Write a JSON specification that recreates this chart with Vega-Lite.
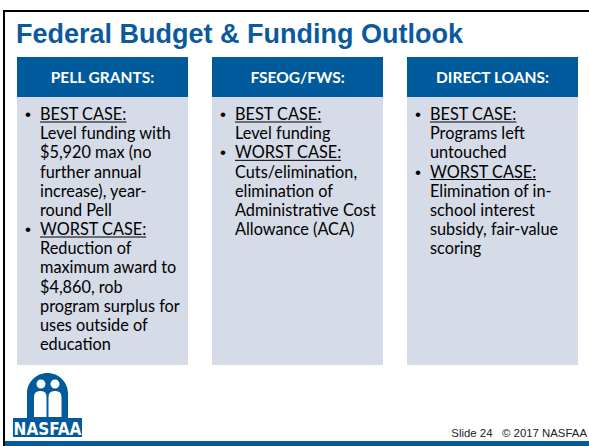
{
  "$schema": "https://vega.github.io/schema/vega-lite/v6.json",
  "width": 589,
  "height": 446,
  "padding": 0,
  "autosize": {"type": "none"},
  "background": "white",
  "config": {"view": {"stroke": null}},
  "datasets": {
    "slide": [{"title": "Federal Budget & Funding Outlook", "footer": "Slide 24\u00a0\u00a0\u00a0© 2017 NASFAA", "logo": "NASFAA"}],
    "boxes": [{"box": "PELL GRANTS:"}, {"box": "FSEOG/FWS:"}, {"box": "DIRECT LOANS:"}],
    "lines": [
      {"box": "PELL GRANTS:", "line": 0, "head": true, "text": "BEST CASE:"},
      {"box": "PELL GRANTS:", "line": 1, "head": false, "text": "Level funding with"},
      {"box": "PELL GRANTS:", "line": 2, "head": false, "text": "$5,920 max (no"},
      {"box": "PELL GRANTS:", "line": 3, "head": false, "text": "further annual"},
      {"box": "PELL GRANTS:", "line": 4, "head": false, "text": "increase), year-"},
      {"box": "PELL GRANTS:", "line": 5, "head": false, "text": "round Pell"},
      {"box": "PELL GRANTS:", "line": 6, "head": true, "text": "WORST CASE:"},
      {"box": "PELL GRANTS:", "line": 7, "head": false, "text": "Reduction of"},
      {"box": "PELL GRANTS:", "line": 8, "head": false, "text": "maximum award to"},
      {"box": "PELL GRANTS:", "line": 9, "head": false, "text": "$4,860, rob"},
      {"box": "PELL GRANTS:", "line": 10, "head": false, "text": "program surplus for"},
      {"box": "PELL GRANTS:", "line": 11, "head": false, "text": "uses outside of"},
      {"box": "PELL GRANTS:", "line": 12, "head": false, "text": "education"},
      {"box": "FSEOG/FWS:", "line": 0, "head": true, "text": "BEST CASE:"},
      {"box": "FSEOG/FWS:", "line": 1, "head": false, "text": "Level funding"},
      {"box": "FSEOG/FWS:", "line": 2, "head": true, "text": "WORST CASE:"},
      {"box": "FSEOG/FWS:", "line": 3, "head": false, "text": "Cuts/elimination,"},
      {"box": "FSEOG/FWS:", "line": 4, "head": false, "text": "elimination of"},
      {"box": "FSEOG/FWS:", "line": 5, "head": false, "text": "Administrative Cost"},
      {"box": "FSEOG/FWS:", "line": 6, "head": false, "text": "Allowance (ACA)"},
      {"box": "DIRECT LOANS:", "line": 0, "head": true, "text": "BEST CASE:"},
      {"box": "DIRECT LOANS:", "line": 1, "head": false, "text": "Programs left"},
      {"box": "DIRECT LOANS:", "line": 2, "head": false, "text": "untouched"},
      {"box": "DIRECT LOANS:", "line": 3, "head": true, "text": "WORST CASE:"},
      {"box": "DIRECT LOANS:", "line": 4, "head": false, "text": "Elimination of in-"},
      {"box": "DIRECT LOANS:", "line": 5, "head": false, "text": "school interest"},
      {"box": "DIRECT LOANS:", "line": 6, "head": false, "text": "subsidy, fair-value"},
      {"box": "DIRECT LOANS:", "line": 7, "head": false, "text": "scoring"}
    ]
  },
  "layer": [
    {
      "data": {"name": "slide"},
      "mark": {"type": "rule", "x": 0, "x2": 589, "y": 8.5, "y2": 8.5, "color": "#b0b0b0", "strokeWidth": 1},
      "encoding": {}
    },
    {
      "data": {"name": "slide"},
      "mark": {"type": "rect", "x": 4, "y": 11, "x2": 700, "y2": 700, "fill": null, "fillOpacity": 0, "stroke": "#000000", "strokeWidth": 2},
      "encoding": {}
    },
    {
      "data": {"name": "slide"},
      "mark": {"type": "rect", "x": 5, "y": 441, "x2": 589, "y2": 446, "fill": "#005A9C"},
      "encoding": {}
    },
    {
      "data": {"name": "boxes"},
      "mark": {"type": "rect", "y": 97, "y2": 365, "fill": "#D5DBE7"},
      "encoding": {
        "x": {"field": "box", "type": "nominal", "axis": null,
              "scale": {"type": "band", "domain": ["PELL GRANTS:", "FSEOG/FWS:", "DIRECT LOANS:"], "range": [17, 578], "paddingInner": 0.123, "paddingOuter": 0}}
      }
    },
    {
      "data": {"name": "boxes"},
      "mark": {"type": "rect", "y": 57, "y2": 97, "fill": "#005A9C"},
      "encoding": {
        "x": {"field": "box", "type": "nominal", "axis": null}
      }
    },
    {
      "data": {"name": "boxes"},
      "mark": {"type": "text", "y": 83, "align": "center", "baseline": "alphabetic", "font": "Lato", "fontWeight": "bold", "fontSize": 15.5, "fill": "#FFFFFF"},
      "encoding": {
        "x": {"field": "box", "type": "nominal", "axis": null, "bandPosition": 0.5},
        "text": {"field": "box"}
      }
    },
    {
      "data": {"name": "slide"},
      "mark": {"type": "text", "x": 16, "y": 43, "align": "left", "baseline": "alphabetic", "font": "Liberation Sans", "fontWeight": "bold", "fontSize": 27, "fill": "#0A5A9C"},
      "encoding": {"text": {"field": "title"}}
    },
    {
      "data": {"name": "lines"},
      "transform": [{"filter": "datum.head"}],
      "mark": {"type": "text", "text": "•", "dx": 8, "dy": -2, "align": "left", "baseline": "alphabetic", "font": "Liberation Sans", "fontSize": 17, "fill": "#000000"},
      "encoding": {
        "x": {"field": "box", "type": "nominal", "axis": null, "bandPosition": 0},
        "y": {"field": "line", "type": "quantitative", "axis": null, "scale": {"domain": [0, 1], "range": [122, 141.17], "zero": false, "nice": false}}
      }
    },
    {
      "data": {"name": "lines"},
      "mark": {"type": "text", "dx": 23, "dy": -2, "align": "left", "baseline": "alphabetic", "font": "Lato", "fontSize": 16.3, "fill": "#000000"},
      "encoding": {
        "x": {"field": "box", "type": "nominal", "axis": null, "bandPosition": 0},
        "y": {"field": "line", "type": "quantitative", "axis": null},
        "text": {"field": "text"}
      }
    },
    {
      "data": {"name": "lines"},
      "transform": [{"filter": "datum.text === 'BEST CASE:'"}],
      "mark": {"type": "rule", "color": "#000000", "strokeWidth": 1},
      "encoding": {
        "x": {"field": "box", "type": "nominal", "axis": null, "bandPosition": 0.1345},
        "x2": {"field": "box", "bandPosition": 0.64},
        "y": {"field": "line", "type": "quantitative", "axis": null}
      }
    },
    {
      "data": {"name": "lines"},
      "transform": [{"filter": "datum.text === 'WORST CASE:'"}],
      "mark": {"type": "rule", "color": "#000000", "strokeWidth": 1},
      "encoding": {
        "x": {"field": "box", "type": "nominal", "axis": null, "bandPosition": 0.1345},
        "x2": {"field": "box", "bandPosition": 0.755},
        "y": {"field": "line", "type": "quantitative", "axis": null}
      }
    },
    {
      "data": {"name": "slide"},
      "mark": {"type": "point", "x": 47.5, "y": 405, "size": 4, "filled": true, "opacity": 1, "fill": "#005A9C", "strokeWidth": 0,
               "shape": "M -20.5 13 L -20.5 -11.5 A 20.5 20.5 0 0 1 20.5 -11.5 L 20.5 13 Z M -34.5 13 L 34.5 13 L 34.5 32 L -34.5 32 Z"},
      "encoding": {}
    },
    {
      "data": {"name": "slide"},
      "mark": {"type": "point", "x": 47.5, "y": 405, "size": 4, "filled": true, "opacity": 1, "fill": "#FFFFFF", "strokeWidth": 0,
               "shape": "M -11 -21 A 4.5 4.5 0 1 1 -2 -21 A 4.5 4.5 0 1 1 -11 -21 Z M -13.5 12 L -13.5 -8 Q -13.5 -14 -7.5 -14 L -6.5 -14 Q -1 -14 -1 -8 L -1 12 Z M 3 -21 A 4.5 4.5 0 1 1 12 -21 A 4.5 4.5 0 1 1 3 -21 Z M 1 12 L 1 -8 Q 1 -14 7 -14 L 8 -14 Q 14 -14 14 -8 L 14 12 Z"},
      "encoding": {}
    },
    {
      "data": {"name": "slide"},
      "mark": {"type": "text", "x": 47.5, "y": 435, "align": "center", "baseline": "alphabetic", "font": "Liberation Sans Narrow, DejaVu Sans Condensed, sans-serif", "fontWeight": "bold", "fontSize": 17, "fill": "#FFFFFF"},
      "encoding": {"text": {"field": "logo"}}
    },
    {
      "data": {"name": "slide"},
      "mark": {"type": "text", "x": 587, "y": 437, "align": "right", "baseline": "alphabetic", "font": "Liberation Sans", "fontSize": 11.4, "fill": "#222222"},
      "encoding": {"text": {"field": "footer"}}
    }
  ]
}
